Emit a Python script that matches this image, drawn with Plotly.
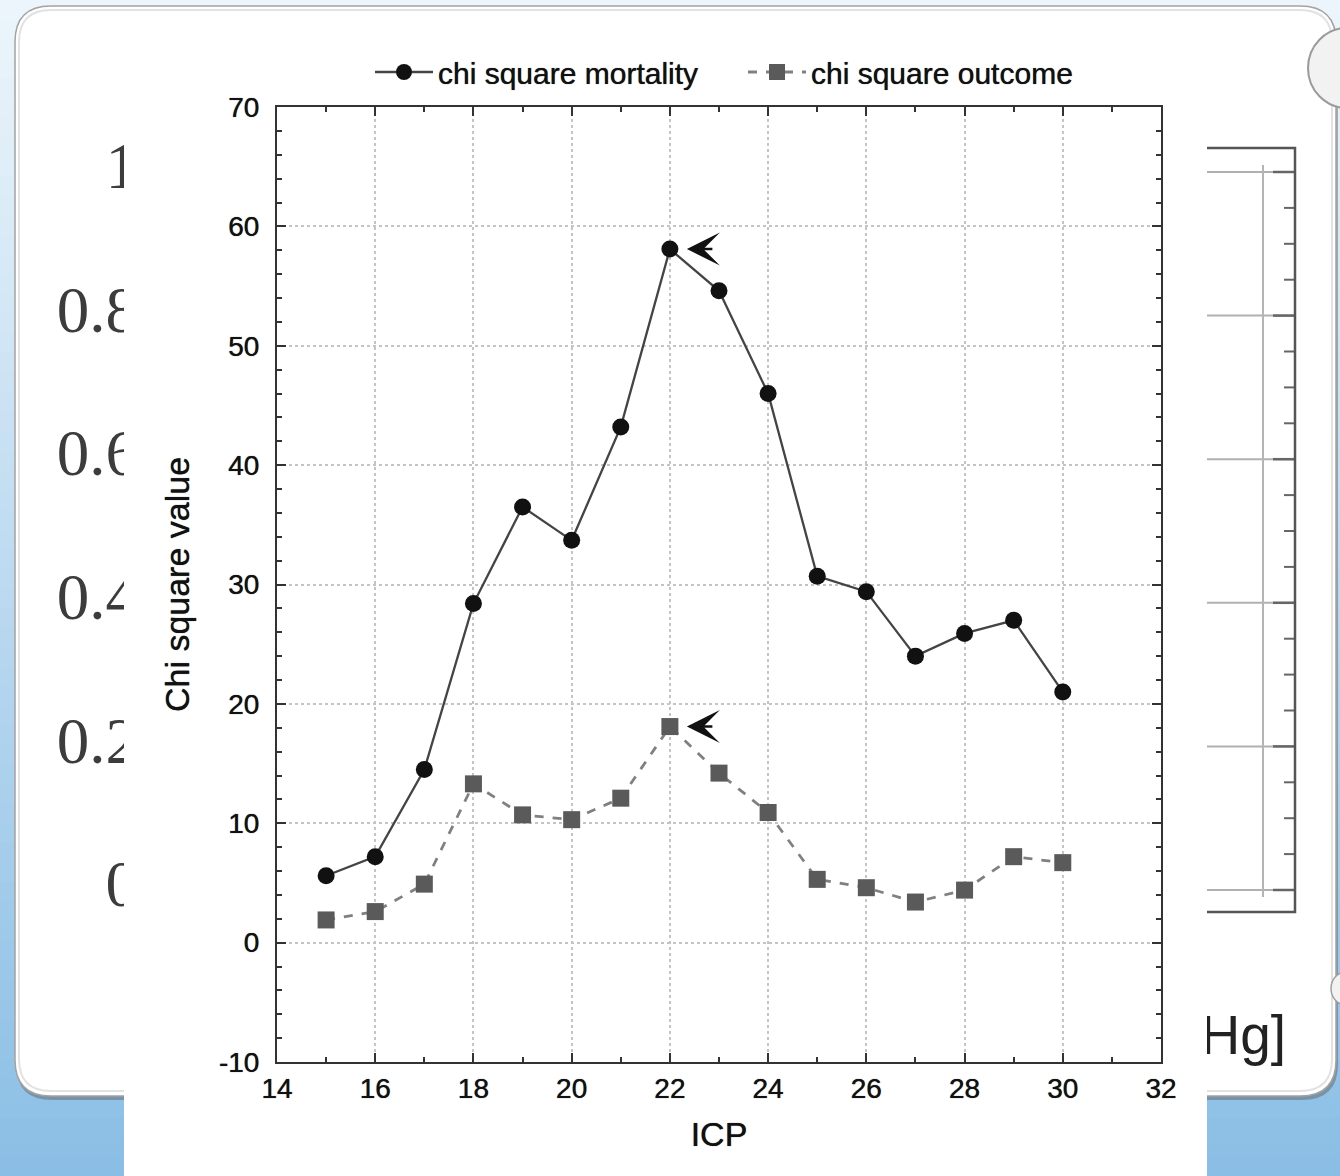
import plotly.graph_objects as go

# Figure size in pixels
W, H = 1340, 1176

# ICP thresholds and the chi square statistics for each threshold
icp = [15, 16, 17, 18, 19, 20, 21, 22, 23, 24, 25, 26, 27, 28, 29, 30]
chi_mortality = [5.6, 7.2, 14.5, 28.4, 36.5, 33.7, 43.2, 58.1, 54.6, 46.0, 30.7, 29.4, 24.0, 25.9, 27.0, 21.0]
chi_outcome = [1.9, 2.6, 4.9, 13.3, 10.7, 10.3, 12.1, 18.1, 14.2, 10.9, 5.3, 4.6, 3.4, 4.4, 7.2, 6.7]

x_ticks = [14, 16, 18, 20, 22, 24, 26, 28, 30, 32]
y_ticks = [-10, 0, 10, 20, 30, 40, 50, 60, 70]

# Slide behind the chart: its own axis labels and unit
slide_levels = [0, 0.2, 0.4, 0.6, 0.8, 1]
slide_labels = ["0", "0.2", "0.4", "0.6", "0.8", "1"]
slide_unit = "[mmHg]"

SANS = "Liberation Sans, Arial, Helvetica, sans-serif"
SERIF = "Liberation Serif, Times New Roman, serif"
HEAVY = "0px 0px 0.8px rgba(0,0,0,0.9)"


def fx(px):
    return px / W


def fy(py):
    return 1 - py / H


# pixel row of a slide-axis value (0 -> 890, 1 -> 172)
def slide_row(v):
    return 890 - 718 * v


def rounded_rect(x0, y0, x1, y1, r):
    rx, ry = r / W, r / H
    a0, a1, b0, b1 = fx(x0), fx(x1), fy(y1), fy(y0)
    return (
        f"M{a0 + rx},{b1} L{a1 - rx},{b1} Q{a1},{b1} {a1},{b1 - ry} "
        f"L{a1},{b0 + ry} Q{a1},{b0} {a1 - rx},{b0} "
        f"L{a0 + rx},{b0} Q{a0},{b0} {a0},{b0 + ry} "
        f"L{a0},{b1 - ry} Q{a0},{b1} {a0 + rx},{b1} Z"
    )


shapes = []

# blue backdrop, light at the top and deeper towards the bottom
n_strips = 60
top_rgb, bot_rgb = (236, 245, 251), (139, 190, 229)
for i in range(n_strips):
    t = i / (n_strips - 1)
    c = tuple(round(top_rgb[k] + (bot_rgb[k] - top_rgb[k]) * t) for k in range(3))
    y0 = H * i / n_strips
    y1 = H * (i + 1) / n_strips + 1
    shapes.append(dict(type="rect", xref="paper", yref="paper", layer="below",
                       x0=0, x1=1, y0=fy(y1), y1=fy(y0),
                       fillcolor=f"rgb{c}", line=dict(width=0)))

# rounded white slide panel with a soft shadow
shapes.append(dict(type="path", xref="paper", yref="paper", layer="below",
                   path=rounded_rect(16, 9, 1338, 1100, 36),
                   fillcolor="rgba(90,90,90,0.45)", line=dict(width=0)))
shapes.append(dict(type="path", xref="paper", yref="paper", layer="below",
                   path=rounded_rect(15, 6, 1336, 1096, 36),
                   fillcolor="white", line=dict(color="#a3a3a3", width=1.5)))
shapes.append(dict(type="path", xref="paper", yref="paper", layer="below",
                   path=rounded_rect(19, 10, 1332, 1091, 32),
                   fillcolor="rgba(0,0,0,0)", line=dict(color="#e2e2e2", width=2)))

# part of the slide's own plot frame at the right
for v in slide_levels:
    r = slide_row(v)
    shapes.append(dict(type="line", xref="paper", yref="paper", layer="below",
                       x0=fx(1207), x1=fx(1295), y0=fy(r), y1=fy(r),
                       line=dict(color="#b0b0b0", width=2)))
    shapes.append(dict(type="line", xref="paper", yref="paper", layer="below",
                       x0=fx(1273), x1=fx(1295), y0=fy(r), y1=fy(r),
                       line=dict(color="#666", width=2.5)))
for k in range(20):
    v = 0.05 * k
    if k % 4 == 0:
        continue
    r = slide_row(v)
    shapes.append(dict(type="line", xref="paper", yref="paper", layer="below",
                       x0=fx(1284), x1=fx(1295), y0=fy(r), y1=fy(r),
                       line=dict(color="#666", width=2)))
shapes.append(dict(type="line", xref="paper", yref="paper", layer="below",
                   x0=fx(1263), x1=fx(1263), y0=fy(slide_row(0) + 7), y1=fy(slide_row(1) - 7),
                   line=dict(color="#b4b4b4", width=2)))
shapes.append(dict(type="path", xref="paper", yref="paper", layer="below",
                   path=(f"M{fx(1207)},{fy(148)} L{fx(1295)},{fy(148)} "
                         f"L{fx(1295)},{fy(912)} L{fx(1207)},{fy(912)}"),
                   line=dict(color="#555", width=2.5)))

# white sheet carrying the chi square chart
shapes.append(dict(type="rect", xref="paper", yref="paper", layer="below",
                   x0=fx(124), x1=fx(1207), y0=fy(H), y1=fy(20),
                   fillcolor="white", line=dict(width=0)))

# round buttons on the panel edge
shapes.append(dict(type="circle", xref="paper", yref="paper", layer="below",
                   x0=fx(1308), x1=fx(1386), y0=fy(108), y1=fy(28),
                   fillcolor="#f2f2f2", line=dict(color="#9a9a9a", width=2)))
shapes.append(dict(type="circle", xref="paper", yref="paper", layer="below",
                   x0=fx(1331), x1=fx(1361), y0=fy(1005), y1=fy(972),
                   fillcolor="#f2f2f2", line=dict(color="#a0a0a0", width=1.5)))

fig = go.Figure()

fig.add_trace(go.Scatter(
    x=icp, y=chi_mortality, name="chi square mortality",
    mode="lines+markers",
    line=dict(color="#444444", width=2.3),
    marker=dict(symbol="circle", size=17, color="#111111"),
))
fig.add_trace(go.Scatter(
    x=icp, y=chi_outcome, name="chi square outcome",
    mode="lines+markers",
    line=dict(color="#808080", width=2.8, dash="dash"),
    marker=dict(symbol="square", size=17, color="#5a5a5a"),
))

# clipped axis labels of the slide underneath
fig.add_trace(go.Scatter(
    x=[1] * len(slide_levels), y=slide_levels, text=slide_labels,
    mode="text", textposition="middle left", cliponaxis=True,
    textfont=dict(family=SERIF, size=65, color="#3c3c3c"),
    xaxis="x2", yaxis="y2", showlegend=False, hoverinfo="skip",
))
fig.add_trace(go.Scatter(
    x=[1], y=[0.5], text=[slide_unit],
    mode="text", textposition="middle left", cliponaxis=True,
    textfont=dict(family=SANS, size=55, color="#222"),
    xaxis="x3", yaxis="y3", showlegend=False, hoverinfo="skip",
))

# arrowheads marking the peak of each curve
annotations = []
for series in (chi_mortality, chi_outcome):
    i_peak = max(range(len(series)), key=lambda i: series[i])
    annotations.append(dict(
        x=icp[i_peak], y=series[i_peak], xref="x", yref="y",
        text="", showarrow=True, ax=44, ay=0, standoff=17,
        arrowhead=3, arrowsize=2.2, arrowwidth=2.5, arrowcolor="#111",
    ))

axis_common = dict(
    showline=True, linewidth=2, linecolor="#333", mirror="ticks",
    ticks="inside", ticklen=9, tickwidth=2, tickcolor="#333",
    showgrid=True, gridcolor="#c4c4c4", griddash="dot", gridwidth=1.5,
    zeroline=False,
    tickfont=dict(family=SANS, size=28, color="#111", shadow=HEAVY),
)

fig.update_layout(
    width=W, height=H,
    margin=dict(l=0, r=0, t=0, b=0, pad=0, autoexpand=False),
    paper_bgcolor="#eaf3fa",
    plot_bgcolor="rgba(0,0,0,0)",
    shapes=shapes,
    annotations=annotations,
    showlegend=True,
    legend=dict(
        orientation="h", x=fx(370), xanchor="left", y=fy(72), yanchor="middle",
        font=dict(family=SANS, size=30, color="#111", shadow=HEAVY),
        bgcolor="rgba(0,0,0,0)", itemwidth=58, entrywidth=300,
    ),
    xaxis=dict(
        domain=[fx(277), fx(1161)], range=[14, 32], anchor="y",
        tickmode="array", tickvals=x_ticks, ticktext=[str(v) for v in x_ticks],
        minor=dict(tickmode="linear", tick0=14, dtick=1, ticks="inside",
                   ticklen=5, tickwidth=1.5, tickcolor="#333", showgrid=False),
        title=dict(text="ICP", standoff=20,
                   font=dict(family=SANS, size=34, color="#111", shadow=HEAVY)),
        **axis_common,
    ),
    yaxis=dict(
        domain=[fy(1062), fy(107)], range=[-10, 70], anchor="x",
        tickmode="array", tickvals=y_ticks, ticktext=[str(v) for v in y_ticks],
        ticklabelstandoff=10,
        minor=dict(tickmode="linear", tick0=-10, dtick=2, ticks="inside",
                   ticklen=5, tickwidth=1.5, tickcolor="#333", showgrid=False),
        title=dict(text="Chi square value", standoff=19,
                   font=dict(family=SANS, size=34, color="#111", shadow=HEAVY)),
        **axis_common,
    ),
    xaxis2=dict(domain=[fx(40), fx(124)], range=[0, 84 / 98], anchor="y2",
                visible=False, fixedrange=True),
    yaxis2=dict(domain=[fy(1000), fy(100)],
                range=[(890 - 1000) / 718, (890 - 100) / 718], anchor="x2",
                visible=False, fixedrange=True),
    xaxis3=dict(domain=[fx(1207), fx(1330)], range=[0, 123 / 79], anchor="y3",
                visible=False, fixedrange=True),
    yaxis3=dict(domain=[fy(1090), fy(990)], range=[0, 1], anchor="x3",
                visible=False, fixedrange=True),
)

fig.write_html("out.html")
